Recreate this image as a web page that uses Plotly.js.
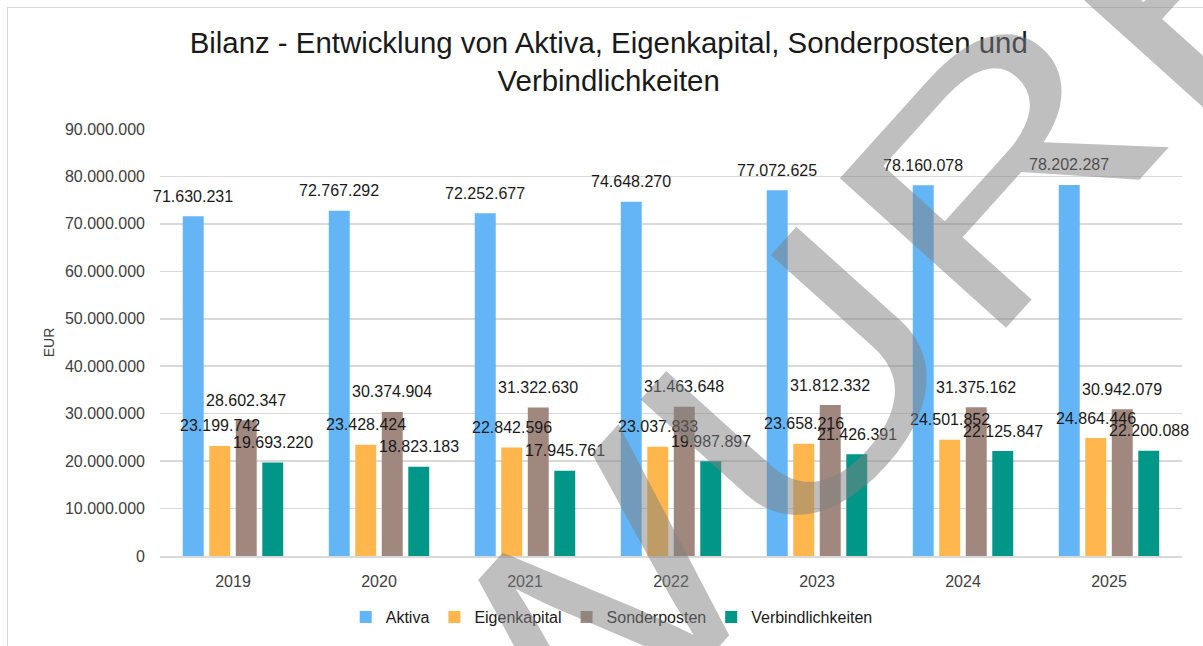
<!DOCTYPE html>
<html>
<head>
<meta charset="utf-8">
<script src="https://cdn.plot.ly/plotly-3.0.1.min.js"></script>
<style>
  html, body { margin: 0; padding: 0; background: #ffffff; overflow: hidden; }
  #frame { position: absolute; left: 7px; top: 7px; width: 2000px; height: 2000px; border: 1px solid #d9d9d9; }
  #chart { position: absolute; left: 0; top: 0; width: 1203px; height: 646px; }
</style>
</head>
<body>
<div id="frame"></div>
<div id="chart"></div>
<script>
// ---- data ----
const categories = ['2019', '2020', '2021', '2022', '2023', '2024', '2025'];
const seriesNames = ['Aktiva', 'Eigenkapital', 'Sonderposten', 'Verbindlichkeiten'];
const aktiva = [71630231, 72767292, 72252677, 74648270, 77072625, 78160078, 78202287];
const eigenkapital = [23199742, 23428424, 22842596, 23037833, 23658216, 24501852, 24864446];
const sonderposten = [28602347, 30374904, 31322630, 31463648, 31812332, 31375162, 30942079];
const verbindlichkeiten = [19693220, 18823183, 17945761, 19987897, 21426391, 22125847, 22200088];
const yTickValues = [0, 10000000, 20000000, 30000000, 40000000, 50000000, 60000000, 70000000, 80000000, 90000000];
const watermarkText = 'ENTWURF';

// ---- style ----
const colors = ['#64B5F6', '#FFB74D', '#A1887F', '#009688'];
const FONT = 'Liberation Sans, Arial, sans-serif';
const BARGAP = 0.274;
const BARGROUPGAP = 0.21;
const WM_ANGLE = -48;     // degrees, counter-clockwise
const WM_STRETCH = 1.26;  // horizontal stretch of the watermark lettering

const allSeries = [aktiva, eigenkapital, sonderposten, verbindlichkeiten];

function fmt(n) {
  return String(n).replace(/\B(?=(\d{3})+(?!\d))/g, '.');
}

const traces = allSeries.map((vals, k) => ({
  type: 'bar',
  name: seriesNames[k],
  x: categories,
  y: vals,
  marker: { color: colors[k] },
  hoverinfo: 'skip'
}));

const slot = (1 - BARGAP) / allSeries.length;
const annotations = [];
allSeries.forEach((vals, k) => {
  const off = (k - (allSeries.length - 1) / 2) * slot;
  vals.forEach((v, i) => {
    annotations.push({
      x: i + off, y: v, xref: 'x', yref: 'y',
      xanchor: 'center', yanchor: 'middle',
      text: fmt(v), showarrow: false, yshift: 20,
      font: { family: FONT, size: 16, color: '#1a1a1a' }
    });
  });
});

// draft watermark (rotated & stretched after rendering)
const wmIndex = annotations.length;
annotations.push({
  xref: 'paper', yref: 'paper', x: 0.411, y: -0.18,
  xanchor: 'center', yanchor: 'middle',
  text: watermarkText, showarrow: false, textangle: 0,
  font: { family: FONT, size: 325, color: 'rgba(128,128,128,0.5)' }
});

const layout = {
  width: 1203, height: 646,
  margin: { l: 160, r: 21, t: 129, b: 90, autoexpand: false },
  paper_bgcolor: 'rgba(0,0,0,0)',
  plot_bgcolor: 'rgba(0,0,0,0)',
  separators: ',.',
  font: { family: FONT, size: 16, color: '#404040' },
  barmode: 'group',
  bargap: BARGAP,
  bargroupgap: BARGROUPGAP,
  title: {
    text: 'Bilanz - Entwicklung von Aktiva, Eigenkapital, Sonderposten und<br>Verbindlichkeiten',
    font: { family: FONT, size: 29.4, color: '#1a1a1a' },
    x: 0.506, xref: 'container', xanchor: 'center',
    y: 0.918, yref: 'container', yanchor: 'top'
  },
  xaxis: {
    type: 'category', automargin: false,
    range: [-0.5, categories.length - 0.5], autorange: false,
    showline: true, linecolor: '#d9d9d9', linewidth: 1.5,
    showgrid: false, ticks: '',
    tickfont: { family: FONT, size: 16, color: '#404040' },
    ticklabelstandoff: 10
  },
  yaxis: {
    automargin: false,
    range: [0, 90000000], autorange: false,
    tickvals: yTickValues,
    tickformat: ',d',
    showgrid: true, gridcolor: '#d9d9d9', gridwidth: 1.5,
    zeroline: false, showline: false, ticks: '',
    tickfont: { family: FONT, size: 16, color: '#404040' },
    ticklabelstandoff: 14,
    title: { text: 'EUR', font: { family: FONT, size: 14, color: '#404040' }, standoff: 7 }
  },
  legend: {
    orientation: 'h', x: 0.442, xanchor: 'center', y: -0.143, yanchor: 'middle',
    font: { family: FONT, size: 16, color: '#1a1a1a' },
    itemwidth: 30, traceorder: 'normal'
  },
  showlegend: true,
  annotations: annotations
};

Plotly.newPlot('chart', traces, layout, { displayModeBar: false, staticPlot: true }).then(() => {
  const g = document.querySelector('g.annotation[data-index="' + wmIndex + '"]');
  if (!g) return;
  const t = g.querySelector('text.annotation-text');
  if (!t) return;
  const b = t.getBBox();
  const cx = b.x + b.width / 2, cy = b.y + b.height / 2;
  t.setAttribute('transform',
    'rotate(' + WM_ANGLE + ' ' + cx + ' ' + cy + ') translate(' + cx + ' ' + cy + ') scale(' +
    WM_STRETCH + ' 1) translate(' + (-cx) + ' ' + (-cy) + ')');
});
</script>
</body>
</html>
